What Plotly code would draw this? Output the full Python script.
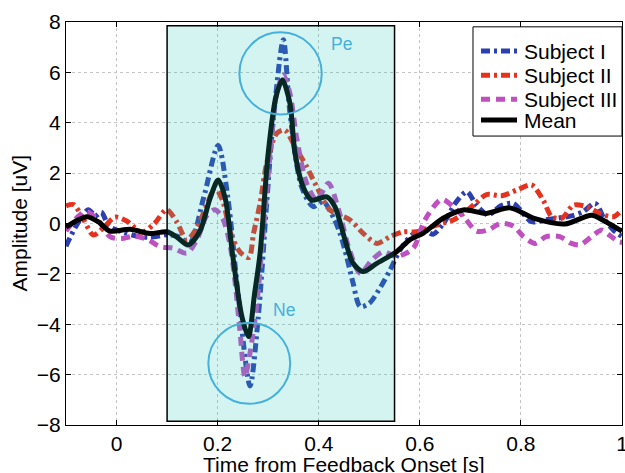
import plotly.graph_objects as go

# ---------------- data ----------------
t_s1 = [-0.1, -0.08, -0.056, -0.042, -0.03, -0.015, 0.014, 0.04, 0.066, 0.1, 0.12, 0.145, 0.172, 0.201, 0.22,
        0.241, 0.264, 0.28, 0.297, 0.31, 0.33, 0.343, 0.366, 0.389, 0.409, 0.43, 0.442, 0.455, 0.468, 0.482,
        0.50, 0.523, 0.541, 0.561, 0.584, 0.61, 0.627, 0.65, 0.67, 0.693, 0.712, 0.735, 0.76, 0.785, 0.821,
        0.85, 0.871, 0.9, 0.923, 0.947, 0.966, 0.985, 1.0]
y_s1 = [-0.9, -0.1, 0.55, 0.3, 0.45, -0.1, -0.35, -0.5, -0.55, -0.45, -0.5, -0.75, 1.0, 3.1, 1.06,
        -2.9, -6.45, -3.8, 0.8, 4.1, 7.3, 4.4, 1.46, 0.67, 0.87, 0.2, -0.38, -1.3, -2.37, -3.3,
        -3.17, -2.5, -1.85, -1.05, -0.46, -0.3, -0.42, 0.1, 0.8, 1.26, 0.73, 0.34, 0.7, 0.8, 0.07,
        0.15, 0.21, 0.3, 0.47, 0.80, 0.14, -0.3, -0.52]

t_s2 = [-0.1, -0.085, -0.065, -0.046, -0.025, -0.003, 0.02, 0.05, 0.075, 0.099, 0.119, 0.139, 0.158, 0.175,
        0.195, 0.21, 0.226, 0.245, 0.262, 0.271, 0.284, 0.297, 0.317, 0.333, 0.353, 0.376, 0.396, 0.422,
        0.462, 0.488, 0.515, 0.541, 0.567, 0.594, 0.633, 0.666, 0.686, 0.71, 0.732, 0.762, 0.792, 0.821,
        0.844, 0.861, 0.881, 0.904, 0.93, 0.956, 0.983, 1.0]
y_s2 = [0.7, 0.75, 0.15, -0.46, -0.15, 0.25, 0.1, -0.35, 0.0, 0.55, 0.07, -0.65, -0.2, 0.55,
        1.4, 0.9, -0.4, -1.15, -1.35, -0.4, 0.8, 2.39, 3.58, 3.71, 3.05, 2.26, 1.46, 0.54,
        0.14, -0.39, -0.79, -0.52, -0.33, -0.33, -0.06, 0.14, 0.4, 0.8, 1.15, 1.1, 1.33, 1.53,
        0.93, 0.27, 0.21, 0.73, 0.67, 0.40, 0.27, 0.54]

t_s3 = [-0.1, -0.075, -0.059, -0.035, -0.013, 0.01, 0.035, 0.063, 0.086, 0.112, 0.139, 0.16, 0.178, 0.195,
        0.21, 0.224, 0.234, 0.244, 0.254, 0.264, 0.277, 0.29, 0.304, 0.317, 0.33, 0.343, 0.356, 0.376,
        0.396, 0.419, 0.44, 0.46, 0.482, 0.505, 0.528, 0.554, 0.587, 0.61, 0.643, 0.666, 0.689, 0.712,
        0.735, 0.759, 0.785, 0.805, 0.828, 0.85, 0.877, 0.9, 0.917, 0.94, 0.96, 0.975, 0.993, 1.0]
y_s3 = [-0.3, 0.3, 0.47, 0.1, -0.52, -0.6, -0.5, -0.65, -0.92, -0.98, -1.18, -0.6, 0.3, 0.55,
        0.2, -0.79, -2.24, -4.23, -6.08, -5.15, -3.3, -0.39, 2.79, 5.17, 5.9, 5.17, 3.45, 1.6,
        0.93, 1.6, 0.5, -1.0, -1.98, -1.45, -1.12, -1.31, -0.98, 0.14, 0.96, 0.67, 0.21, -0.3,
        -0.26, 0.0, -0.1, -0.52, -0.79, -0.52, -0.52, -0.79, -0.85, -0.52, -0.26, -0.46, -0.72, -0.75]

t_mean = [-0.1, -0.08, -0.058, -0.035, -0.013, 0.027, 0.066, 0.1, 0.12, 0.142, 0.165, 0.185, 0.201, 0.215,
          0.23, 0.248, 0.261, 0.273, 0.284, 0.300, 0.315, 0.328, 0.343, 0.353, 0.369, 0.386, 0.402, 0.416,
          0.432, 0.452, 0.468, 0.488, 0.515, 0.554, 0.580, 0.607, 0.646, 0.686, 0.732, 0.778, 0.828, 0.887,
          0.940, 0.966, 0.996, 1.0]
y_mean = [-0.15, 0.1, 0.27, 0.05, -0.3, -0.23, -0.4, -0.33, -0.55, -0.85, -0.3, 1.0, 1.73, 1.0,
          -1.3, -3.7, -4.49, -2.8, -1.18, 2.79, 5.0, 5.70, 4.77, 2.8, 1.46, 0.93, 1.0, 1.06,
          0.67, -0.65, -1.58, -1.91, -1.58, -1.12, -0.65, -0.38, 0.21, 0.54, 0.40, 0.62, 0.19, -0.02,
          0.33, 0.09, -0.26, -0.3]

series_names = ["Subject I", "Subject II", "Subject III", "Mean"]
x_ticks = [0, 0.2, 0.4, 0.6, 0.8, 1]
x_tick_text = ["0", "0.2", "0.4", "0.6", "0.8", "1"]
y_ticks = [-8, -6, -4, -2, 0, 2, 4, 6, 8]
x_title = "Time from Feedback Onset [s]"
y_title = "Amplitude [uV]"

window = [0.1, 0.55, -7.85, 7.85]          # highlighted interval
pe_circle = [0.3245, 5.96, 0.0815, 1.63]   # cx, cy, rx, ry
ne_circle = [0.2626, -5.55, 0.081, 1.61]
pe_label = [0.445, 7.12, "Pe"]
ne_label = [0.332, -3.42, "Ne"]

# ---------------- styles ----------------
FONT = "Arial"
FS = 21
colors = ["#2b3fb0", "#e5321f", "#c04fc0", "black"]
dashes = ["9px,4px,3px,4px", "9px,4px,3px,4px", "9px,6px", "solid"]
LW = 5

fig = go.Figure()
for t, y, name, col, dsh in zip([t_s1, t_s2, t_s3, t_mean], [y_s1, y_s2, y_s3, y_mean],
                                series_names, colors, dashes):
    fig.add_trace(go.Scatter(x=t, y=y, name=name, mode="lines", showlegend=False,
                             line=dict(color=col, width=LW, dash=dsh, shape="spline", smoothing=0.8)))

# translucent window drawn above the traces
fig.add_shape(type="rect", x0=window[0], x1=window[1], y0=window[2], y1=window[3],
              xref="x", yref="y", layer="above",
              fillcolor="rgba(40,200,190,0.2)", line=dict(color="black", width=1.5))
for c in (pe_circle, ne_circle):
    fig.add_shape(type="circle", xref="x", yref="y", layer="above",
                  x0=c[0] - c[2], x1=c[0] + c[2], y0=c[1] - c[3], y1=c[1] + c[3],
                  line=dict(color="#45b0dc", width=2))
for lab in (pe_label, ne_label):
    fig.add_annotation(x=lab[0], y=lab[1], text=lab[2], showarrow=False, xref="x", yref="y",
                       font=dict(family=FONT, size=17.5, color="#45b0dc"))

# ---------------- legend box (MATLAB style, drawn in paper coordinates) ----------------
leg_box = [0.732, 1.0, 0.717, 0.988]
leg_rows = [0.928, 0.8677, 0.8082, 0.7568]
leg_line_x = [0.7464, 0.8112]
leg_text_x = 0.8201
fig.add_shape(type="rect", xref="paper", yref="paper", layer="above",
              x0=leg_box[0], x1=leg_box[1], y0=leg_box[2], y1=leg_box[3],
              fillcolor="white", line=dict(color="black", width=1))
for name, col, dsh, ry in zip(series_names, colors, dashes, leg_rows):
    fig.add_shape(type="line", xref="paper", yref="paper", layer="above",
                  x0=leg_line_x[0], x1=leg_line_x[1], y0=ry, y1=ry,
                  line=dict(color=col, width=LW, dash=dsh))
    fig.add_annotation(x=leg_text_x, y=ry, xref="paper", yref="paper", xanchor="left",
                       yanchor="middle", text=name, showarrow=False,
                       font=dict(family=FONT, size=FS, color="black"))

# axis titles placed as paper annotations (x title clipped by the bottom edge, as in the reference)
fig.add_annotation(x=0.5, y=-0.0645, xref="paper", yref="paper", yanchor="top", xanchor="center",
                   text=x_title, showarrow=False,
                   font=dict(family=FONT, size=FS, color="black"))
fig.add_annotation(x=0, y=0.5, xref="paper", yref="paper", xanchor="center", yanchor="middle",
                   xshift=-47, text=y_title, textangle=-90, showarrow=False,
                   font=dict(family=FONT, size=FS, color="black"))

axis_common = dict(showline=True, linecolor="black", linewidth=1, mirror="ticks",
                   ticks="inside", ticklen=5, tickcolor="black", automargin=False,
                   ticklabeloverflow="allow",
                   showgrid=True, gridcolor="#c4c4c4", griddash="dot", gridwidth=1,
                   zeroline=False, tickfont=dict(family=FONT, size=FS, color="black"))

fig.update_layout(
    width=625, height=473,
    margin=dict(l=66, r=3, t=22, b=48),
    paper_bgcolor="white", plot_bgcolor="white",
    font=dict(family=FONT, size=FS, color="black"),
    xaxis=dict(range=[-0.1, 1.0], tickvals=x_ticks, ticktext=x_tick_text, **axis_common),
    yaxis=dict(range=[-8, 8], tickvals=y_ticks, **axis_common),
    showlegend=False,
)

# remove the browser's default 8px body margin so the figure sits at the window origin
fig.write_html("out.html", config={"displayModeBar": False},
               post_script="document.body.style.margin='0';document.body.style.overflow='hidden';")
